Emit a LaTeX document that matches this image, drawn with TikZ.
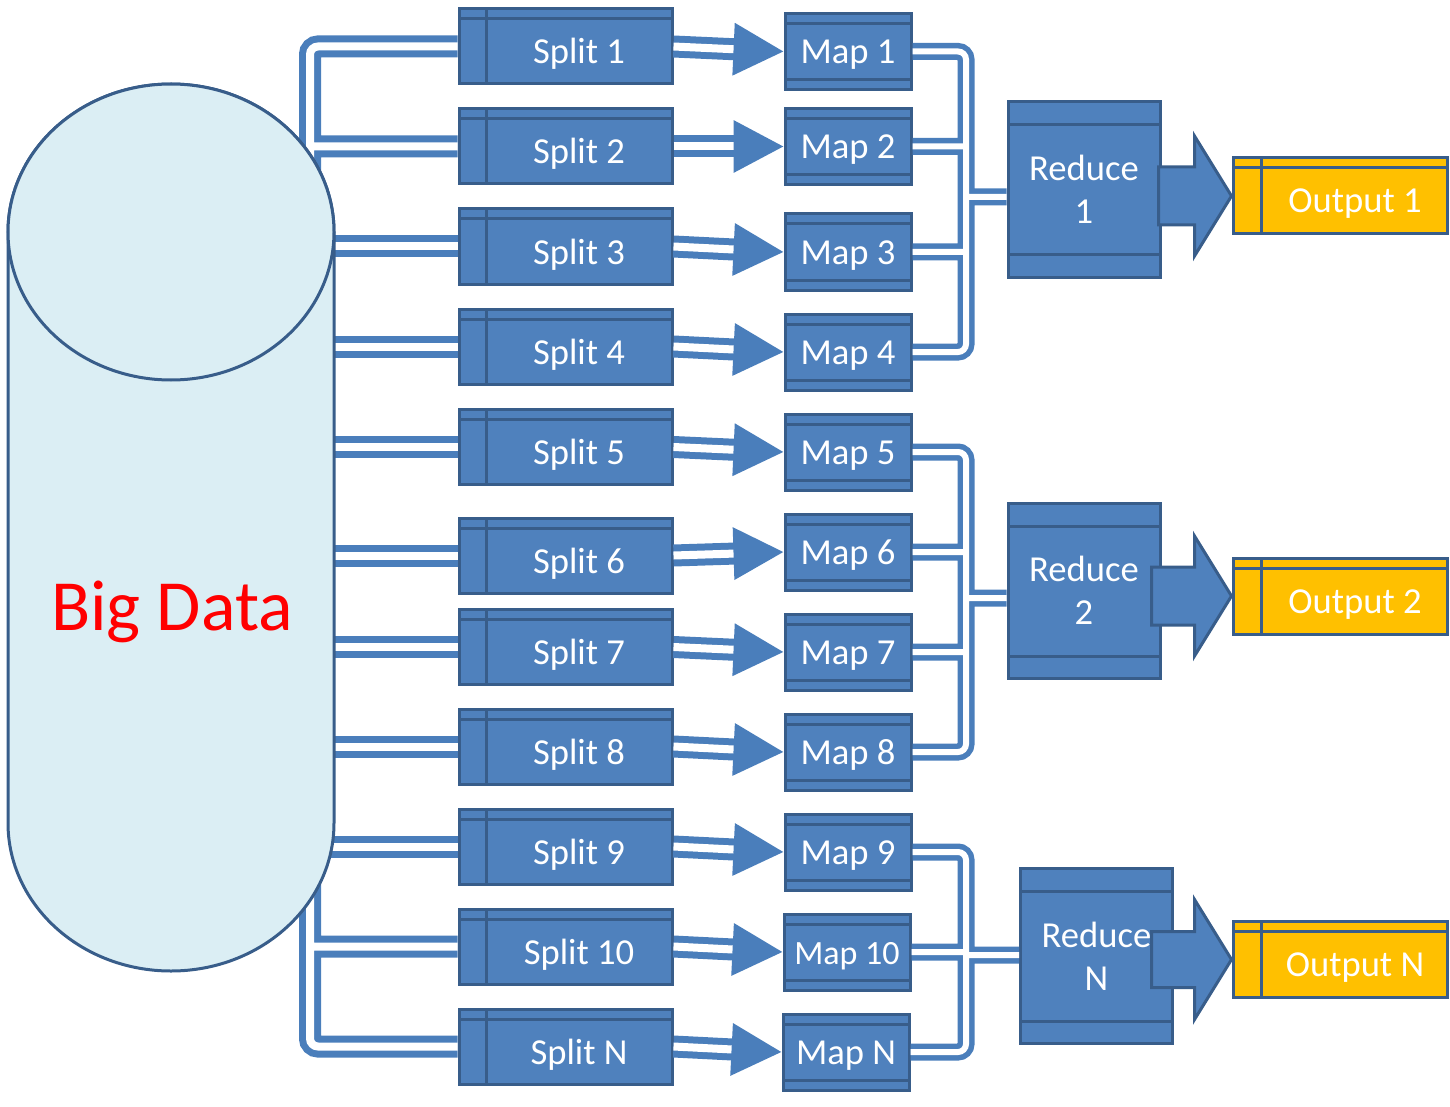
\documentclass[tikz,border=0pt]{standalone}
\usepackage{fontspec}
\setmainfont{Carlito}
\usetikzlibrary{arrows.meta,backgrounds,calc}

\definecolor{boxblue}{HTML}{4F81BD}
\definecolor{edgeblue}{HTML}{385D8A}
\definecolor{linkblue}{HTML}{4A7EBB}
\definecolor{cylfill}{HTML}{DBEEF4}
\definecolor{outfill}{HTML}{FFC000}
\definecolor{bigred}{HTML}{FF0000}

\tikzset{
  box/.style={draw=edgeblue, line width=1.5pt, fill=boxblue, text=white, inner sep=0pt},
  band/.style={draw=edgeblue, line width=1.5pt},
  splitbox/.style={box, minimum width=106.5pt, minimum height=37.5pt,
    text height=17.5pt, text depth=0pt, execute at begin node={\hspace*{13.5pt}},
    path picture={
      \draw[band] ([xshift=13.5pt]path picture bounding box.north west) -- ([xshift=13.5pt]path picture bounding box.south west);
      \draw[band] ([yshift=-5pt]path picture bounding box.north west) -- ([yshift=-5pt]path picture bounding box.north east);}},
  mapbox/.style={box, minimum width=63pt, minimum height=38pt,
    text height=12.5pt, text depth=0pt,
    path picture={
      \draw[band] ([yshift=-5pt]path picture bounding box.north west) -- ([yshift=-5pt]path picture bounding box.north east);
      \draw[band] ([yshift=5pt]path picture bounding box.south west) -- ([yshift=5pt]path picture bounding box.south east);}},
  reducebox/.style={box, minimum width=76pt, minimum height=87.5pt, align=center,
    path picture={
      \draw[band] ([yshift=-11.5pt]path picture bounding box.north west) -- ([yshift=-11.5pt]path picture bounding box.north east);
      \draw[band] ([yshift=11pt]path picture bounding box.south west) -- ([yshift=11pt]path picture bounding box.south east);}},
  outbox/.style={box, fill=outfill, minimum width=107pt, minimum height=38pt,
    text height=17pt, text depth=0pt, execute at begin node={\hspace*{15pt}},
    path picture={
      \draw[band] ([xshift=14pt]path picture bounding box.north west) -- ([xshift=14pt]path picture bounding box.south west);
      \draw[band] ([yshift=-5pt]path picture bounding box.north west) -- ([yshift=-5pt]path picture bounding box.north east);}},
  feed/.style={draw=linkblue, line width=3.5pt, double=white, double distance=4pt, rounded corners=4pt},
  gather/.style={draw=linkblue, line width=2.75pt, double=white, double distance=3pt, rounded corners=4pt},
  flow/.style={feed, -{Triangle[length=25pt, width=25.5pt]}},
  bigarrow/.style={fill=boxblue, draw=edgeblue, line width=1.5pt, line join=miter},
  cyl/.style={fill=cylfill, draw=edgeblue, line width=1.5pt}
}

\begin{document}
\begin{tikzpicture}[x=0.5pt, y=-0.5pt, font=\fontsize{18.3pt}{21.5pt}\selectfont]
  \useasboundingbox (0,0) rectangle (1450,1107);

  % splits
  \node[splitbox] (s1) at (565.5,46.5) {Split 1};
  \node[splitbox] (s2) at (565.5,146.5) {Split 2};
  \node[splitbox] (s3) at (565.5,246.5) {Split 3};
  \node[splitbox] (s4) at (565.5,346.5) {Split 4};
  \node[splitbox] (s5) at (565.5,447) {Split 5};
  \node[splitbox] (s6) at (565.5,555.5) {Split 6};
  \node[splitbox] (s7) at (565.5,647) {Split 7};
  \node[splitbox] (s8) at (565.5,746.5) {Split 8};
  \node[splitbox] (s9) at (565.5,846.5) {Split 9};
  \node[splitbox] (s10) at (565.5,946.5) {Split 10};
  \node[splitbox] (sN) at (565.5,1046.5) {Split N};

  % maps
  \node[mapbox] (m1) at (848,51.5) {Map 1};
  \node[mapbox] (m2) at (848,146.5) {Map 2};
  \node[mapbox] (m3) at (848,252) {Map 3};
  \node[mapbox] (m4) at (848,352) {Map 4};
  \node[mapbox] (m5) at (848,452) {Map 5};
  \node[mapbox] (m6) at (848,552) {Map 6};
  \node[mapbox] (m7) at (848,652) {Map 7};
  \node[mapbox] (m8) at (848,752) {Map 8};
  \node[mapbox] (m9) at (848,852) {Map 9};
  \node[mapbox, font=\fontsize{17pt}{20pt}\selectfont] (m10) at (847,952) {Map 10};
  \node[mapbox] (mN) at (846,1052) {Map N};

  % reduces and outputs
  \node[reducebox] (r1) at (1084,189.5) {Reduce\\1};
  \node[reducebox] (r2) at (1084,590.5) {Reduce\\2};
  \node[reducebox] (rN) at (1096.5,956) {Reduce\\N};
  \node[outbox] (o1) at (1340,196) {Output 1};
  \node[outbox] (o2) at (1340,596) {Output 2};
  \node[outbox] (oN) at (1340,959.5) {Output N};

  \node[font=\fontsize{36pt}{40pt}\selectfont, text=bigred] (bd) at (172,612) {Big Data};

  \coordinate (cyl) at (322,500);
  \coordinate (tkA) at (310,230);
  \coordinate (tkB) at (310,850);
  \coordinate (j1) at (966,197);
  \coordinate (j2) at (966,598);
  \coordinate (jN) at (966,955);

  \begin{scope}[on background layer]
    \draw[feed] (tkA) |- (s1.west) (tkA |- s2.west) -- (s2.west);
    \foreach \k in {3,...,9}
      \draw[feed] (cyl |- s\k.west) -- (s\k.west);
    \draw[feed] (tkB) |- (sN.west) (tkB |- s10.west) -- (s10.west);

    % the data store
    \draw[cyl] (8,232) -- (8,823) arc[start angle=180, end angle=360, x radius=81.5pt, y radius=74pt]
      -- (334,232) arc[start angle=0, end angle=180, x radius=81.5pt, y radius=74pt] -- cycle;
    \draw[cyl] (171,232) ellipse[x radius=81.5pt, y radius=74pt];
  \end{scope}

  \foreach \k in {1,...,10,N}
    \draw[flow] (s\k.east) -- (m\k.west);

  \draw[gather] (m1.east) -| (j1) |- (m4.east) (m2.east) -- (m2.east -| j1)
    (m3.east) -- (m3.east -| j1) (j1) -- (j1 -| r1.west);
  \draw[gather] (m5.east) -| (j2) |- (m8.east) (m6.east) -- (m6.east -| j2)
    (m7.east) -- (m7.east -| j2) (j2) -- (j2 -| r2.west);
  \draw[gather] (m9.east) -| (jN) |- (mN.east) (m10.east) -- (m10.east -| jN)
    (jN) -- (jN -| rN.west);

  \draw[bigarrow] (o1.west) -- ++(-37,-60) -- ++(0,31) -- ++(-36,0) -- ++(0,58) -- ++(36,0) -- ++(0,31) -- cycle;
  \draw[bigarrow] (o2.west) -- ++(-37,-60) -- ++(0,31) -- ++(-43,0) -- ++(0,58) -- ++(43,0) -- ++(0,31) -- cycle;
  \draw[bigarrow] (oN.west) -- ++(-37,-60) -- ++(0,32) -- ++(-43,0) -- ++(0,56) -- ++(43,0) -- ++(0,32) -- cycle;
\end{tikzpicture}
\end{document}
